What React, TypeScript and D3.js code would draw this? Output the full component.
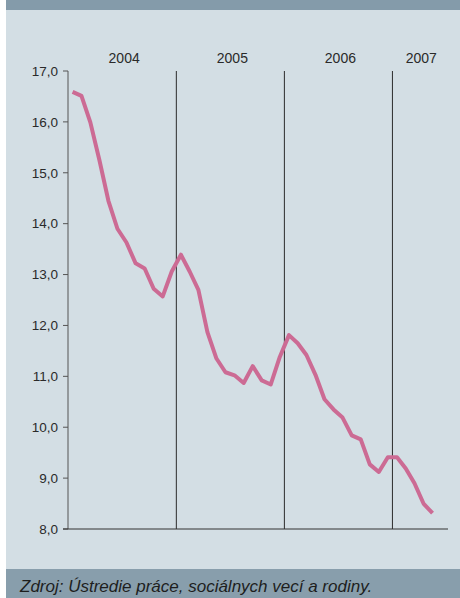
import React from 'react';
import * as d3 from 'd3';

// Miera evidovanej nezamestnanosti (%), mesačne jan 2004 – máj 2007
const values = [
  16.59, 16.51, 15.99, 15.25, 14.45, 13.9, 13.63, 13.22, 13.12, 12.72, 12.57, 13.06,
  13.39, 13.06, 12.7, 11.87, 11.35, 11.08, 11.02, 10.87, 11.2, 10.92, 10.84, 11.38,
  11.81, 11.65, 11.42, 11.03, 10.55, 10.35, 10.19, 9.84, 9.76, 9.27, 9.12, 9.41,
  9.41, 9.19, 8.9, 8.5, 8.31,
];
const years = ['2004', '2005', '2006', '2007'];
const yTicks = [8, 9, 10, 11, 12, 13, 14, 15, 16, 17];
const source = 'Zdroj: Ústredie práce, sociálnych vecí a rodiny.';

const width = 460;
const height = 598;
const margin = { top: 71, right: 14, bottom: 69, left: 68 };

const start = new Date(2004, 0, 1);
const end = new Date(2007, 6, 1);

const App = () => {
  const x = d3
    .scaleTime()
    .domain([start, end])
    .range([margin.left, width - margin.right]);

  const y = d3
    .scaleLinear()
    .domain([8, 17])
    .range([height - margin.bottom, margin.top]);

  // each month's value sits in the middle of its slot
  const monthMid = (i: number) => {
    const a = d3.timeMonth.offset(start, i);
    const b = d3.timeMonth.offset(start, i + 1);
    return (x(a) + x(b)) / 2;
  };

  const line = d3
    .line<number>()
    .x((d, i) => monthMid(i))
    .y((d) => y(d));

  const yearStarts = years.map((yr) => new Date(+yr, 0, 1));
  const fmt = (v: number) => v.toFixed(1).replace('.', ',');
  const font = '"Liberation Sans", Arial, sans-serif';

  return (
    <svg
      width={width}
      height={height}
      style={{ position: 'absolute', left: 0, top: 0 }}
      fontFamily={font}
    >
      <rect x={0} y={0} width={width} height={height} fill="#ffffff" />
      <rect x={6} y={0} width={width - 6} height={height} fill="#d3dee4" />
      <rect x={6} y={0} width={width - 6} height={10} fill="#849baa" />
      <rect x={6} y={569} width={width - 6} height={height - 569} fill="#889eac" />

      {/* year dividers */}
      {yearStarts.slice(1).map((d, i) => (
        <line
          key={i}
          x1={x(d)}
          x2={x(d)}
          y1={y(17)}
          y2={y(8)}
          stroke="#2b2b2b"
          strokeWidth={1}
        />
      ))}

      {/* year labels */}
      {yearStarts.map((d, i) => {
        const next = i < years.length - 1 ? yearStarts[i + 1] : end;
        return (
          <text
            key={years[i]}
            x={(x(d) + x(next)) / 2 + 2}
            y={63}
            textAnchor="middle"
            fontSize={14}
            fill="#2a2a2a"
          >
            {years[i]}
          </text>
        );
      })}

      {/* y axis */}
      <line
        x1={margin.left}
        x2={margin.left}
        y1={y(17)}
        y2={y(8)}
        stroke="#555"
        strokeWidth={1}
      />
      {yTicks.map((t) => (
        <g key={t} transform={`translate(0,${y(t)})`}>
          <line x1={margin.left - 5} x2={margin.left} stroke="#555" strokeWidth={1} />
          <text
            x={margin.left - 10}
            dy="0.35em"
            textAnchor="end"
            fontSize={13.5}
            fill="#2a2a2a"
          >
            {fmt(t)}
          </text>
        </g>
      ))}

      {/* x axis baseline */}
      <line
        x1={margin.left - 5}
        x2={width - margin.right + 2}
        y1={y(8)}
        y2={y(8)}
        stroke="#333"
        strokeWidth={1}
      />

      <path
        d={line(values) || ''}
        fill="none"
        stroke="#cc6b94"
        strokeWidth={4}
        strokeLinejoin="round"
        strokeLinecap="butt"
      />

      <text x={20} y={592} fontSize={17} fontStyle="italic" fill="#1e1e1e">
        {source}
      </text>
    </svg>
  );
};

export default App;
